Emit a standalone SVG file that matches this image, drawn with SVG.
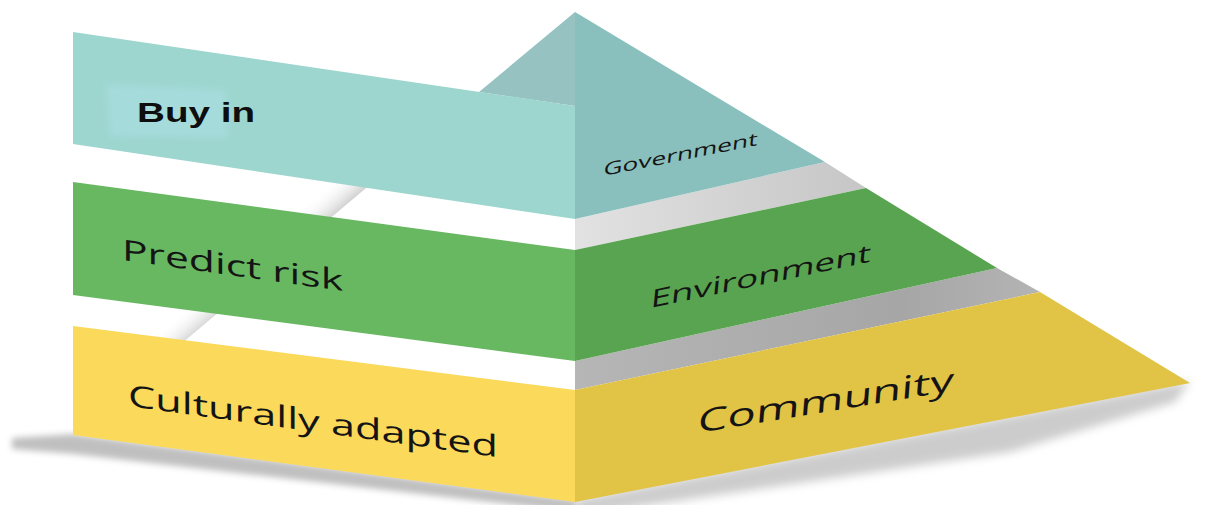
<svg xmlns="http://www.w3.org/2000/svg" width="1206" height="505" viewBox="0 0 1206 505">
  <style>
    .label { font-family: "Open Sans", "Liberation Sans", sans-serif; fill: #141414; }
    .bold { font-family: "Liberation Sans", Arial, sans-serif; font-weight: bold; fill: #0e0e0e; }
  </style>
  <defs>
    <filter id="soft" x="-10%" y="-50%" width="120%" height="200%">
      <feGaussianBlur stdDeviation="5"/>
    </filter>
    <filter id="soft2" x="-20%" y="-50%" width="140%" height="200%">
      <feGaussianBlur stdDeviation="3"/>
    </filter>
    <!-- shading beside the pyramid's left edge, seen through the gaps -->
    <linearGradient id="edgeShade" gradientUnits="userSpaceOnUse" x1="480" y1="92" x2="461" y2="70">
      <stop offset="0" stop-color="#cacaca"/>
      <stop offset="1" stop-color="#ffffff" stop-opacity="0"/>
    </linearGradient>
    <linearGradient id="grayUpper" x1="0" y1="0" x2="1" y2="0">
      <stop offset="0" stop-color="#e2e2e2"/>
      <stop offset="1" stop-color="#c6c6c6"/>
    </linearGradient>
    <linearGradient id="grayLower" x1="0" y1="0" x2="1" y2="0">
      <stop offset="0" stop-color="#b6b6b6"/>
      <stop offset="0.7" stop-color="#a6a6a6"/>
      <stop offset="1" stop-color="#b4b4b4"/>
    </linearGradient>
  </defs>

  <rect width="1206" height="505" fill="#ffffff"/>

  <!-- ground shadows -->
  <g id="shadows">
    <polygon points="12,438 73,434 575,500 575,512 73,454 12,449" fill="#959595" opacity="0.6" filter="url(#soft2)"/>
    <polygon points="575,500 1190,381 1175,402 1010,452 575,516" fill="#9a9a9a" opacity="0.5" filter="url(#soft)"/>
    <polygon points="423,140 162,360 108,360 369,140" fill="url(#edgeShade)"/>
  </g>

  <!-- gray spacer faces on the right side -->
  <g id="spacers">
    <polygon points="575,219 825,162 866,188 575,250" fill="url(#grayUpper)"/>
    <polygon points="575,361 997,268 1040,292 575,390" fill="url(#grayLower)"/>
  </g>

  <!-- top tier -->
  <g id="tier-government">
    <polygon points="575,12 479,92 575,106" fill="#96c3c1"/>
    <polygon points="575,12 825,162 575,219" fill="#89c0bd"/>
    <polygon points="73,32 575,106 575,219 73,144" fill="#9dd5cf"/>
    <polygon points="106,84 226,90 228,138 110,136" fill="#a5dcdb" filter="url(#soft2)"/>
    <text class="bold" x="137" y="122" font-size="27" textLength="118" lengthAdjust="spacingAndGlyphs">Buy in</text>
    <text class="label" font-size="18" textLength="154" lengthAdjust="spacingAndGlyphs" fill="#1b3232" transform="matrix(1,-0.2,-0.1,1,603,176)">Government</text>
  </g>

  <!-- middle tier -->
  <g id="tier-environment">
    <polygon points="575,250 866,188 997,268 575,361" fill="#59a450"/>
    <polygon points="73,182 575,250 575,361 73,295" fill="#67b861"/>
    <text class="label" font-size="29" textLength="221" lengthAdjust="spacingAndGlyphs" transform="matrix(1,0.14,0,1,122,260)">Predict risk</text>
    <text class="label" font-size="25" textLength="220" lengthAdjust="spacingAndGlyphs" fill="#0f230f" transform="matrix(1,-0.21,-0.1,1,650,308)">Environment</text>
  </g>

  <!-- bottom tier -->
  <g id="tier-community">
    <polygon points="575,390 1040,292 1190,383 575,502" fill="#e1c345"/>
    <polygon points="73,326 575,390 575,502 73,435" fill="#fbd95b"/>
    <text class="label" font-size="30" textLength="370" lengthAdjust="spacingAndGlyphs" transform="matrix(1,0.138,0,1,128,406)">Culturally adapted</text>
    <text class="label" font-size="32" textLength="256" lengthAdjust="spacingAndGlyphs" transform="matrix(1,-0.165,-0.08,1,697,433)">Community</text>
  </g>
</svg>
